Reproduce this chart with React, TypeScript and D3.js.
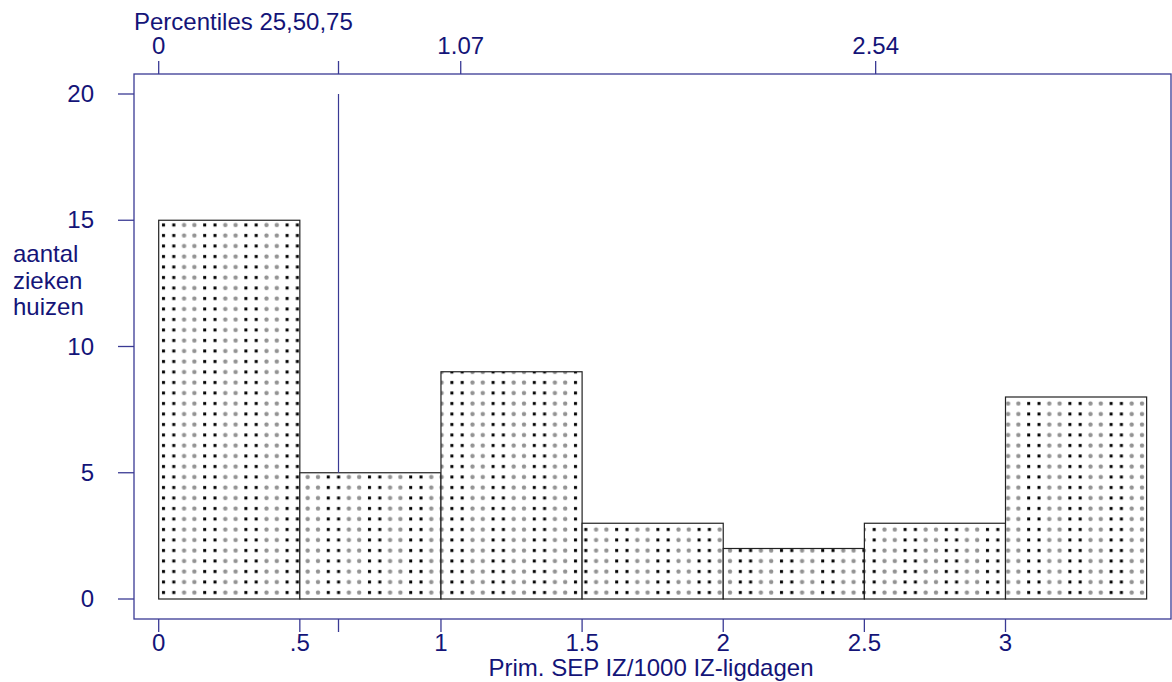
import React, { useEffect, useRef } from "react";
import * as d3 from "d3";

// histogram bins (lower edge, upper edge) and counts
const binStarts = [0, 0.5, 1, 1.5, 2, 2.5, 3];
const binWidth = 0.5;
const counts = [15, 5, 9, 3, 2, 3, 8];

// bottom axis ticks
const xTicks = [0, 0.5, 1, 1.5, 2, 2.5, 3];
const xTickLabels = ["0", ".5", "1", "1.5", "2", "2.5", "3"];

// left axis ticks
const yTicks = [0, 5, 10, 15, 20];

// top axis: percentiles 25,50,75 and the mean marker
const pctValues = [0, 1.07, 2.54];
const pctLabels = ["0", "1.07", "2.54"];
const meanValue = 0.637;

const yTitle = ["aantal", "zieken", "huizen"];
const xTitle = "Prim. SEP IZ/1000 IZ-ligdagen";
const topTitle = "Percentiles 25,50,75";

export default function App() {
  const svgRef = useRef<SVGSVGElement | null>(null);

  useEffect(() => {
    const svg = d3.select(svgRef.current);
    svg.selectAll("*").remove();

    const width = 1172;
    const height = 682;
    const textColor = "#141478";
    const lineColor = "#3a3a94";
    const font = "Liberation Sans, Arial, sans-serif";
    const fs = 24;

    // frame of the plot region
    const frame = { left: 134, right: 1171, top: 74, bottom: 619 };

    const x = d3.scaleLinear().domain([0, 3]).range([158.7, 1005.5]);
    const y = d3.scaleLinear().domain([0, 20]).range([599, 94]);

    // dotted fill pattern
    const defs = svg.append("defs");
    const pat = defs.append("pattern")
      .attr("id", "dots")
      .attr("patternUnits", "userSpaceOnUse")
      .attr("width", 41.2)
      .attr("height", 10.5)
      .attr("x", 159)
      .attr("y", 0);
    pat.append("rect").attr("width", 41.2).attr("height", 10.5).attr("fill", "#fff");
    [0, 10.3].forEach((cx) => {
      pat.append("rect").attr("x", cx + 3).attr("y", 3).attr("width", 3).attr("height", 3).attr("fill", "#000");
    });
    [20.6, 30.9].forEach((cx) => {
      pat.append("circle").attr("cx", cx + 4.5).attr("cy", 4.5).attr("r", 2.2).attr("fill", "#777").attr("opacity", 0.8);
    });

    // frame
    svg.append("rect")
      .attr("x", frame.left)
      .attr("y", frame.top)
      .attr("width", frame.right - frame.left)
      .attr("height", frame.bottom - frame.top)
      .attr("fill", "none")
      .attr("stroke", lineColor)
      .attr("stroke-width", 1.3);

    // bars
    svg.append("g")
      .selectAll("rect")
      .data(counts)
      .join("rect")
      .attr("x", (d, i) => x(binStarts[i]))
      .attr("y", (d) => y(d))
      .attr("width", (d, i) => x(binStarts[i] + binWidth) - x(binStarts[i]))
      .attr("height", (d) => y(0) - y(d))
      .attr("fill", "url(#dots)")
      .attr("stroke", "#222")
      .attr("stroke-width", 1.2);

    // mean line from top of scale down to the bar
    const meanBin = binStarts.findIndex((b) => meanValue >= b && meanValue < b + binWidth);
    svg.append("line")
      .attr("x1", x(meanValue)).attr("x2", x(meanValue))
      .attr("y1", y(20)).attr("y2", y(counts[meanBin]))
      .attr("stroke", lineColor)
      .attr("stroke-width", 1.2);

    // left axis
    const yAxis = svg.append("g");
    yTicks.forEach((t) => {
      yAxis.append("line")
        .attr("x1", frame.left - 16).attr("x2", frame.left)
        .attr("y1", y(t)).attr("y2", y(t))
        .attr("stroke", lineColor).attr("stroke-width", 1.3);
      yAxis.append("text")
        .attr("x", 94).attr("y", y(t) + 8)
        .attr("text-anchor", "end")
        .attr("fill", textColor)
        .attr("font-family", font)
        .attr("font-size", fs)
        .text(t);
    });

    // y title
    yTitle.forEach((s, i) => {
      svg.append("text")
        .attr("x", 13).attr("y", 262 + i * 26.5)
        .attr("fill", textColor)
        .attr("font-family", font)
        .attr("font-size", fs)
        .text(s);
    });

    // bottom axis
    const xAxis = svg.append("g");
    xTicks.forEach((t, i) => {
      xAxis.append("line")
        .attr("x1", x(t)).attr("x2", x(t))
        .attr("y1", frame.bottom).attr("y2", frame.bottom + 13)
        .attr("stroke", lineColor).attr("stroke-width", 1.3);
      xAxis.append("text")
        .attr("x", x(t)).attr("y", 651)
        .attr("text-anchor", "middle")
        .attr("fill", textColor)
        .attr("font-family", font)
        .attr("font-size", fs)
        .text(xTickLabels[i]);
    });
    xAxis.append("line")
      .attr("x1", x(meanValue)).attr("x2", x(meanValue))
      .attr("y1", frame.bottom).attr("y2", frame.bottom + 13)
      .attr("stroke", lineColor).attr("stroke-width", 1.3);

    svg.append("text")
      .attr("x", 651).attr("y", 676)
      .attr("text-anchor", "middle")
      .attr("fill", textColor)
      .attr("font-family", font)
      .attr("font-size", fs)
      .text(xTitle);

    // top axis: percentiles
    const topAxis = svg.append("g");
    pctValues.forEach((t, i) => {
      topAxis.append("line")
        .attr("x1", x(t)).attr("x2", x(t))
        .attr("y1", frame.top).attr("y2", frame.top - 13)
        .attr("stroke", lineColor).attr("stroke-width", 1.3);
      topAxis.append("text")
        .attr("x", x(t)).attr("y", 54)
        .attr("text-anchor", "middle")
        .attr("fill", textColor)
        .attr("font-family", font)
        .attr("font-size", fs)
        .text(pctLabels[i]);
    });
    topAxis.append("line")
      .attr("x1", x(meanValue)).attr("x2", x(meanValue))
      .attr("y1", frame.top).attr("y2", frame.top - 13)
      .attr("stroke", lineColor).attr("stroke-width", 1.3);

    svg.append("text")
      .attr("x", 134).attr("y", 30)
      .attr("fill", textColor)
      .attr("font-family", font)
      .attr("font-size", fs)
      .text(topTitle);

    svg.attr("width", width).attr("height", height);
  }, []);

  return (
    <svg
      ref={svgRef}
      style={{ position: "absolute", left: 0, top: 0, background: "#fff" }}
    ></svg>
  );
}
